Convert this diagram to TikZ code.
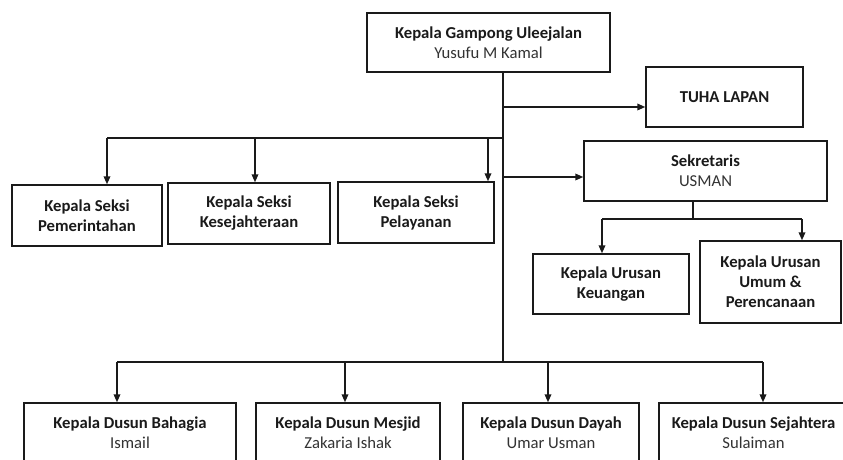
\documentclass[tikz,border=0pt]{standalone}
\usepackage{fontspec}
\setmainfont{Carlito}
\usetikzlibrary{arrows.meta}
\definecolor{ink}{HTML}{1A1A1A}
\definecolor{namec}{HTML}{333333}
\tikzset{
  box/.style={draw=ink, line width=1.1pt, align=center, inner sep=0pt, font=\fontsize{12.5}{15}\selectfont\bfseries, text=ink},
  link/.style={draw=ink, line width=1.1pt},
  arr/.style={link, -{Triangle[length=6pt,width=5pt]}},
}
\newcommand{\nm}[1]{{\mdseries\color{namec}#1}}
\begin{document}
\begin{tikzpicture}[x=0.75pt,y=-0.75pt]
\useasboundingbox (0,0) rectangle (843,460);
\clip (0,0) rectangle (843,460);
\fill[white] (0,0) rectangle (843,460);
% boxes
\node[box, minimum width=243*0.75pt, minimum height=59*0.75pt] (top) at (488.5,42.5) {Kepala Gampong Uleejalan\\ \nm{Yusufu M Kamal}};
\node[box, minimum width=157*0.75pt, minimum height=60*0.75pt] (tuha) at (724.5,97) {TUHA LAPAN};
\node[box, minimum width=243*0.75pt, minimum height=60*0.75pt] (sek) at (705.5,171) {Sekretaris\\ \nm{USMAN}};
\node[box, minimum width=150*0.75pt, minimum height=61*0.75pt] (pem) at (87,215.5) {Kepala Seksi\\ Pemerintahan};
\node[box, minimum width=162*0.75pt, minimum height=61*0.75pt] (kes) at (249,213.5) {Kepala Seksi\\ Kesejahteraan};
\node[box, minimum width=156*0.75pt, minimum height=61*0.75pt] (pel) at (416,212.5) {Kepala Seksi\\ Pelayanan};
\node[box, minimum width=156*0.75pt, minimum height=60*0.75pt] (keu) at (611,284) {Kepala Urusan\\ Keuangan};
\node[box, minimum width=141*0.75pt, minimum height=82*0.75pt] (umum) at (770.5,282) {Kepala Urusan\\ Umum \&\\ Perencanaan};
\node[box, minimum width=212*0.75pt, minimum height=60*0.75pt] (d1) at (130,433) {Kepala Dusun Bahagia\\ \nm{Ismail}};
\node[box, minimum width=184*0.75pt, minimum height=60*0.75pt] (d2) at (348,433) {Kepala Dusun Mesjid\\ \nm{Zakaria Ishak}};
\node[box, minimum width=176*0.75pt, minimum height=60*0.75pt] (d3) at (551,433) {Kepala Dusun Dayah\\ \nm{Umar Usman}};
\node[box, minimum width=189*0.75pt, minimum height=60*0.75pt] (d4) at (753.5,433) {Kepala Dusun Sejahtera\\ \nm{Sulaiman}};
% junction coordinates
\coordinate (tx) at (503,0);
\coordinate (jt) at (503,107);
\coordinate (js) at (503,177);
\coordinate (jb) at (503,362);
\coordinate (sb1) at (107,138);
\coordinate (sb2) at (255,138);
\coordinate (sb3) at (488,138);
\coordinate (sb4) at (503,138);
\coordinate (ub) at (693,219);
\coordinate (ub1) at (602,219);
\coordinate (ub2) at (802,219);
\coordinate (db1) at (117,362);
\coordinate (db2) at (345,362);
\coordinate (db3) at (548,362);
\coordinate (db4) at (763,362);
% trunk
\draw[link] (top.south -| tx) -- (jb);
\draw[arr] (jt) -- (jt -| tuha.west);
\draw[arr] (js) -- (js -| sek.west);
% seksi bus
\draw[link] (sb1) -- (sb4);
\draw[arr] (sb1) -- (sb1 |- pem.north);
\draw[arr] (sb2) -- (sb2 |- kes.north);
\draw[arr] (sb3) -- (sb3 |- pel.north);
% urusan bus
\draw[link] (sek.south -| ub) -- (ub);
\draw[link] (ub1) -- (ub2);
\draw[arr] (ub1) -- (ub1 |- keu.north);
\draw[arr] (ub2) -- (ub2 |- umum.north);
% dusun bus
\draw[link] (db1) -- (db4);
\draw[arr] (db1) -- (db1 |- d1.north);
\draw[arr] (db2) -- (db2 |- d2.north);
\draw[arr] (db3) -- (db3 |- d3.north);
\draw[arr] (db4) -- (db4 |- d4.north);
\end{tikzpicture}
\end{document}
